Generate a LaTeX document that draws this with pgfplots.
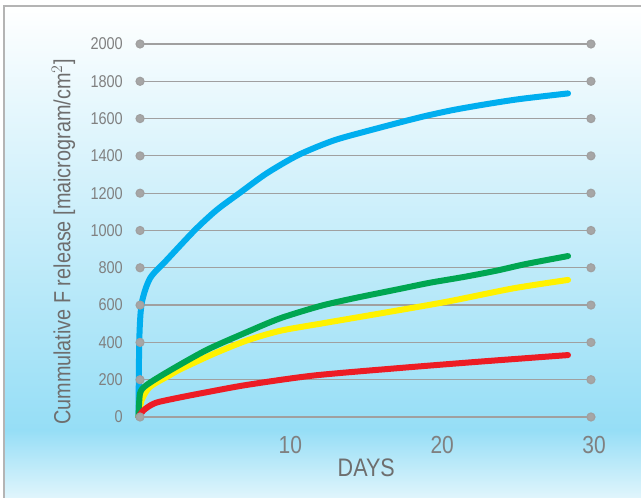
\documentclass[border=0pt]{standalone}
\usepackage{fontspec}
\setmainfont{Liberation Sans}[FakeStretch=0.85]
\usepackage{pgfplots}
\pgfplotsset{compat=1.18}

\definecolor{bgmid}{RGB}{150,222,246}
\definecolor{bgbot}{RGB}{224,245,252}
\definecolor{framegray}{RGB}{180,180,180}
\definecolor{gridgray}{RGB}{160,160,160}
\definecolor{dotgray}{RGB}{166,166,166}
\definecolor{tickgray}{RGB}{128,128,128}
\definecolor{labelgray}{RGB}{110,110,110}
\definecolor{cblue}{RGB}{0,174,239}
\definecolor{cgreen}{RGB}{0,166,81}
\definecolor{cyellow}{RGB}{255,242,0}
\definecolor{cred}{RGB}{237,28,36}

\begin{document}
\begin{tikzpicture}
\useasboundingbox (0,0) rectangle (480.75pt,373.5pt);
% background panel
\shade[top color=white, bottom color=bgmid] (3pt,51pt) rectangle (480.75pt,369pt);
\shade[top color=bgmid, bottom color=bgbot] (3pt,0pt) rectangle (480.75pt,51.1pt);
\draw[framegray, line width=1.1pt] (3pt,0pt) -- (3pt,369pt) -- (480.75pt,369pt);

\begin{axis}[
    at={(103.9pt,60.75pt)}, anchor=south west,
    scale only axis,
    width=341.6pt, height=279.75pt,
    xmin=0, xmax=30, ymin=0, ymax=2000,
    clip=false,
    axis line style={draw=none},
    tick style={draw=none},
    xtick={10,20,30},
    ytick={0,200,...,2000},
    /pgf/number format/assume math mode=true,
    /pgf/number format/1000 sep={},
    yticklabel style={font=\fontsize{12.8}{14}\selectfont, text=tickgray,
        anchor=east, inner sep=0pt, xshift=-11.6pt},
    xticklabel style={font=\fontsize{18.5}{20}\selectfont, text=tickgray,
        anchor=center, inner sep=0pt, yshift=-20.8pt},
    xlabel={DAYS},
    xlabel style={at={(axis description cs:0.5,0)}, anchor=center,
        yshift=-37.9pt, font=\fontsize{19}{21}\selectfont, text=labelgray},
    ylabel={Cummulative F release [maicrogram/cm$^2$]},
    ylabel style={at={(axis description cs:-0.1647,0.469)}, anchor=center,
        font=\fontsize{17.5}{19}\selectfont, text=labelgray},
    every axis plot/.append style={line cap=round, line join=round},
]

% grid lines with end dots
\pgfplotsinvokeforeach{0,200,...,2000}{
  \addplot[gridgray, line width=0.9pt, mark=*, mark size=3pt,
    mark options={fill=dotgray, draw=none}, forget plot]
    coordinates {(0.1,#1) (29.8,#1)};
}

\addplot[cblue, line width=4.5pt, smooth, tension=0.45] coordinates {
    (0,0) (0.05,413) (0.21,610) (0.76,744) (1.86,842) (3.72,1003) (5.15,1110)
    (6.69,1203) (8.45,1307) (10.53,1405) (12.83,1482) (15.14,1535) (18.54,1607)
    (20.72,1646) (22.96,1678) (25.13,1705) (28.29,1735)
};

\addplot[cyellow, line width=4.5pt, smooth, tension=0.45] coordinates {
    (0,0) (0.21,91) (0.76,162) (2.08,225) (2.73,255) (4.93,338) (7.13,410)
    (9.32,462) (11.96,500) (15.9,555) (20.3,618) (24.7,690) (28.29,735)
};

\addplot[cgreen, line width=4.5pt, smooth, tension=0.45] coordinates {
    (0,0) (0.1,127) (0.54,172) (2.08,250) (4.5,360) (7.13,455) (9.32,529)
    (11.96,595) (14.15,636) (17.1,685) (19.2,720) (21.5,752) (23.6,785)
    (25.5,820) (28.29,863)
};

\addplot[cred, line width=4.5pt, smooth, tension=0.45] coordinates {
    (0,0) (0.32,35) (0.8,63) (1.3,80) (2.73,105) (4.5,133) (7.13,172) (11.5,222)
    (17.1,262) (22.5,297) (28.29,332)
};

\end{axis}
\end{tikzpicture}
\end{document}
